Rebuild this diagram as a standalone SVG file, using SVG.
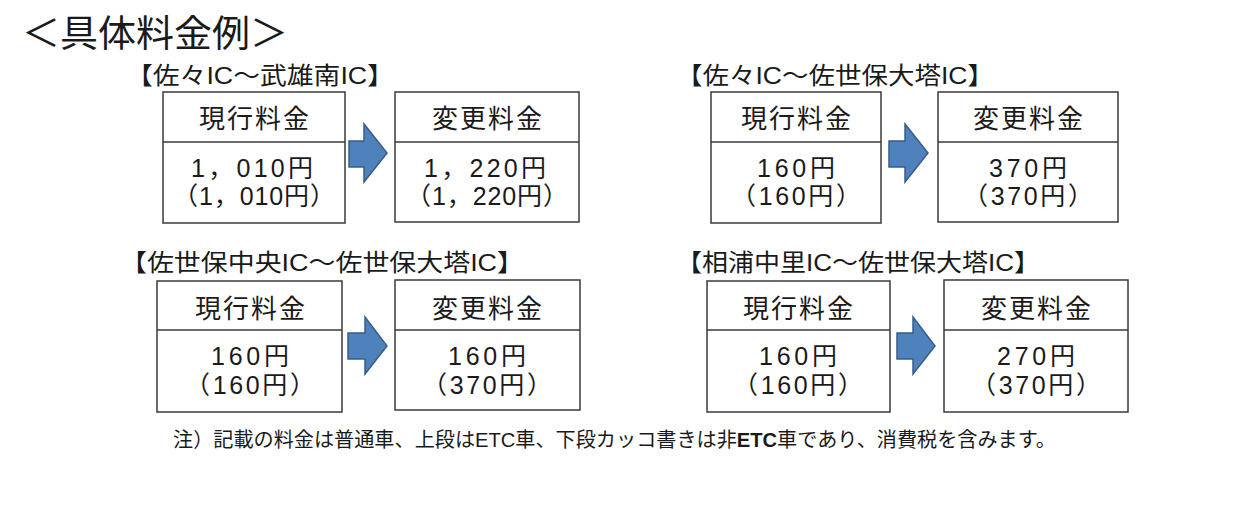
<svg xmlns="http://www.w3.org/2000/svg" width="1240" height="512" viewBox="0 0 1240 512">
<style>
text{font-family:"Liberation Sans","Noto Sans CJK JP",sans-serif;fill:#1a1a1a}
.title{font-size:37px}
.lbl{font-size:24px}
.hd{font-size:26px;text-anchor:middle}
.val{font-size:25px;text-anchor:middle}
.note{font-size:20px}
.box{fill:#fff;stroke:#3a3a3a;stroke-width:1.5}
.div{stroke:#3a3a3a;stroke-width:1.5}
.arrow{fill:#4F81BD;stroke:#385D8A;stroke-width:1.5;stroke-linejoin:miter}
</style>
<rect width="1240" height="512" fill="#fff"/>
<text class="title" x="22" y="47" textLength="266" lengthAdjust="spacingAndGlyphs">＜具体料金例＞</text>

<g id="route1">
<text class="lbl" x="126" y="84" textLength="268" lengthAdjust="spacingAndGlyphs">【佐々IC～武雄南IC】</text>
<g id="r1-current">
<rect class="box" x="163" y="92" width="182" height="131"/>
<line class="div" x1="163" y1="142" x2="345" y2="142"/>
<text class="hd" x="254" y="128" textLength="110" lengthAdjust="spacing">現行料金</text>
<text class="val" x="252" y="177" textLength="122" lengthAdjust="spacing">1，010円</text>
<text class="val" x="254" y="205" textLength="162" lengthAdjust="spacing">（1，010円）</text>
</g>
<g id="r1-new">
<rect class="box" x="395" y="92" width="184" height="130"/>
<line class="div" x1="395" y1="142" x2="579" y2="142"/>
<text class="hd" x="487" y="128" textLength="110" lengthAdjust="spacing">変更料金</text>
<text class="val" x="485" y="177" textLength="122" lengthAdjust="spacing">1，220円</text>
<text class="val" x="487" y="205" textLength="162" lengthAdjust="spacing">（1，220円）</text>
</g>
</g>

<g id="route2">
<text class="lbl" x="676" y="84" textLength="318" lengthAdjust="spacingAndGlyphs">【佐々IC～佐世保大塔IC】</text>
<g id="r2-current">
<rect class="box" x="711" y="92" width="170" height="131"/>
<line class="div" x1="711" y1="142" x2="881" y2="142"/>
<text class="hd" x="796" y="128" textLength="110" lengthAdjust="spacing">現行料金</text>
<text class="val" x="796" y="177" textLength="78" lengthAdjust="spacing">160円</text>
<text class="val" x="796" y="205" textLength="130" lengthAdjust="spacing">（160円）</text>
</g>
<g id="r2-new">
<rect class="box" x="938" y="92" width="180" height="130"/>
<line class="div" x1="938" y1="142" x2="1118" y2="142"/>
<text class="hd" x="1028" y="128" textLength="110" lengthAdjust="spacing">変更料金</text>
<text class="val" x="1028" y="177" textLength="78" lengthAdjust="spacing">370円</text>
<text class="val" x="1028" y="205" textLength="130" lengthAdjust="spacing">（370円）</text>
</g>
</g>

<g id="route3">
<text class="lbl" x="120" y="271" textLength="404" lengthAdjust="spacingAndGlyphs">【佐世保中央IC～佐世保大塔IC】</text>
<g id="r3-current">
<rect class="box" x="157" y="281" width="185" height="131"/>
<line class="div" x1="157" y1="330" x2="342" y2="330"/>
<text class="hd" x="250" y="318" textLength="110" lengthAdjust="spacing">現行料金</text>
<text class="val" x="250" y="365" textLength="78" lengthAdjust="spacing">160円</text>
<text class="val" x="250" y="394" textLength="130" lengthAdjust="spacing">（160円）</text>
</g>
<g id="r3-new">
<rect class="box" x="395" y="280" width="185" height="130"/>
<line class="div" x1="395" y1="330" x2="580" y2="330"/>
<text class="hd" x="487" y="318" textLength="110" lengthAdjust="spacing">変更料金</text>
<text class="val" x="487" y="365" textLength="78" lengthAdjust="spacing">160円</text>
<text class="val" x="487" y="394" textLength="130" lengthAdjust="spacing">（370円）</text>
</g>
</g>

<g id="route4">
<text class="lbl" x="676" y="271" textLength="364" lengthAdjust="spacingAndGlyphs">【相浦中里IC～佐世保大塔IC】</text>
<g id="r4-current">
<rect class="box" x="707" y="281" width="183" height="131"/>
<line class="div" x1="707" y1="330" x2="890" y2="330"/>
<text class="hd" x="798" y="318" textLength="110" lengthAdjust="spacing">現行料金</text>
<text class="val" x="798" y="365" textLength="78" lengthAdjust="spacing">160円</text>
<text class="val" x="798" y="394" textLength="130" lengthAdjust="spacing">（160円）</text>
</g>
<g id="r4-new">
<rect class="box" x="944" y="280" width="184" height="132"/>
<line class="div" x1="944" y1="330" x2="1128" y2="330"/>
<text class="hd" x="1036" y="318" textLength="110" lengthAdjust="spacing">変更料金</text>
<text class="val" x="1036" y="365" textLength="78" lengthAdjust="spacing">270円</text>
<text class="val" x="1036" y="394" textLength="130" lengthAdjust="spacing">（370円）</text>
</g>
</g>

<g id="connectors">
<path class="arrow" d="M349,141 H364 V124 L387,153 L364,182 V167 H349 Z"/>
<path class="arrow" d="M889,141 H905 V124 L928,153 L905,182 V167 H889 Z"/>
<path class="arrow" d="M348,333 H365 V317 L387,346 L365,374 V359 H348 Z"/>
<path class="arrow" d="M897,333 H913 V317 L935,346 L913,374 V359 H897 Z"/>
</g>

<text class="note" x="173" y="447" textLength="883" lengthAdjust="spacingAndGlyphs">注）記載の料金は普通車、上段はETC車、下段カッコ書きは非<tspan font-weight="bold">ETC</tspan>車であり、消費税を含みます。</text>
</svg>
